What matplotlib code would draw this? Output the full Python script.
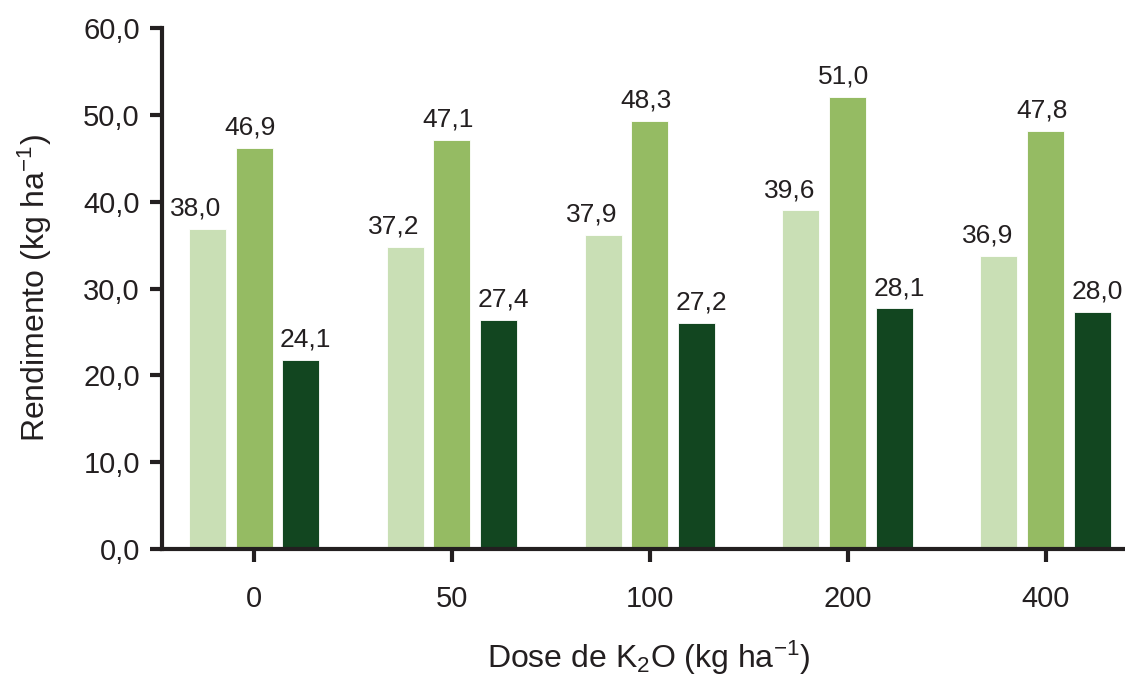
import numpy as np
import matplotlib
matplotlib.use('Agg')
import matplotlib.pyplot as plt
from matplotlib.ticker import FuncFormatter

plt.rcParams['font.family'] = ['Liberation Sans', 'DejaVu Sans']
plt.rcParams['mathtext.fontset'] = 'custom'
plt.rcParams['mathtext.rm'] = 'Liberation Sans'
plt.rcParams['mathtext.it'] = 'Liberation Sans:italic'

# doses de K2O
doses = ['0', '50', '100', '200', '400']

# alturas das barras
serie1 = [36.9, 34.8, 36.2, 39.0, 33.8]
serie2 = [46.2, 47.1, 49.3, 52.1, 48.1]
serie3 = [21.8, 26.4, 26.0, 27.7, 27.3]

# rotulos impressos sobre as barras
rot1 = [38.0, 37.2, 37.9, 39.6, 36.9]
rot2 = [46.9, 47.1, 48.3, 51.0, 47.8]
rot3 = [24.1, 27.4, 27.2, 28.1, 28.0]

cores = ['#c9dfb5', '#95bb63', '#124620']
txt = '#231f20'

fig = plt.figure(figsize=(11.25, 6.77), dpi=100)
ax = fig.add_axes([162/1125, 1-549/677, 1-162/1125, (549-28)/677])

x = np.arange(len(doses))
w = 0.187
passo = 0.237
series = [serie1, serie2, serie3]
rotulos = [rot1, rot2, rot3]
desloc = [-8, -3, 3]

for i, (s, r) in enumerate(zip(series, rotulos)):
    pos = x + (i-1)*passo
    ax.bar(pos, s, width=w, color=cores[i], edgecolor='white', linewidth=0.6, zorder=2)
    for xi, h, v in zip(pos, s, r):
        ax.annotate(f'{v:.1f}'.replace('.', ','), (xi, h), xytext=(desloc[i], 6),
                    textcoords='offset points', ha='center', va='bottom',
                    fontsize=19, color=txt)

ax.set_xlim(-0.465, 4.40)
ax.set_ylim(0, 60)
ax.set_yticks(np.arange(0, 61, 10))
ax.yaxis.set_major_formatter(FuncFormatter(lambda v, p: f'{v:.1f}'.replace('.', ',')))
ax.set_xticks(x)
ax.set_xticklabels(doses)

for lado in ['top', 'right']:
    ax.spines[lado].set_visible(False)
for lado in ['left', 'bottom']:
    ax.spines[lado].set_linewidth(3)
    ax.spines[lado].set_color(txt)
    ax.spines[lado].set_capstyle('projecting')

ax.tick_params(axis='both', direction='out', length=9, width=3, color=txt,
               labelsize=21, labelcolor=txt)
ax.tick_params(axis='y', pad=7)
ax.tick_params(axis='x', pad=17)

ax.set_ylabel('Rendimento (kg ha$^{\\mathregular{-1}}$)', fontsize=23, color=txt)
ax.yaxis.set_label_coords(-0.112, 0.5)
ax.set_xlabel('Dose de K$_{\\mathregular{2}}$O (kg ha$^{\\mathregular{-1}}$)', fontsize=23, color=txt)
ax.xaxis.set_label_coords(0.505, -0.172)

fig.savefig('out.png', dpi=100)
